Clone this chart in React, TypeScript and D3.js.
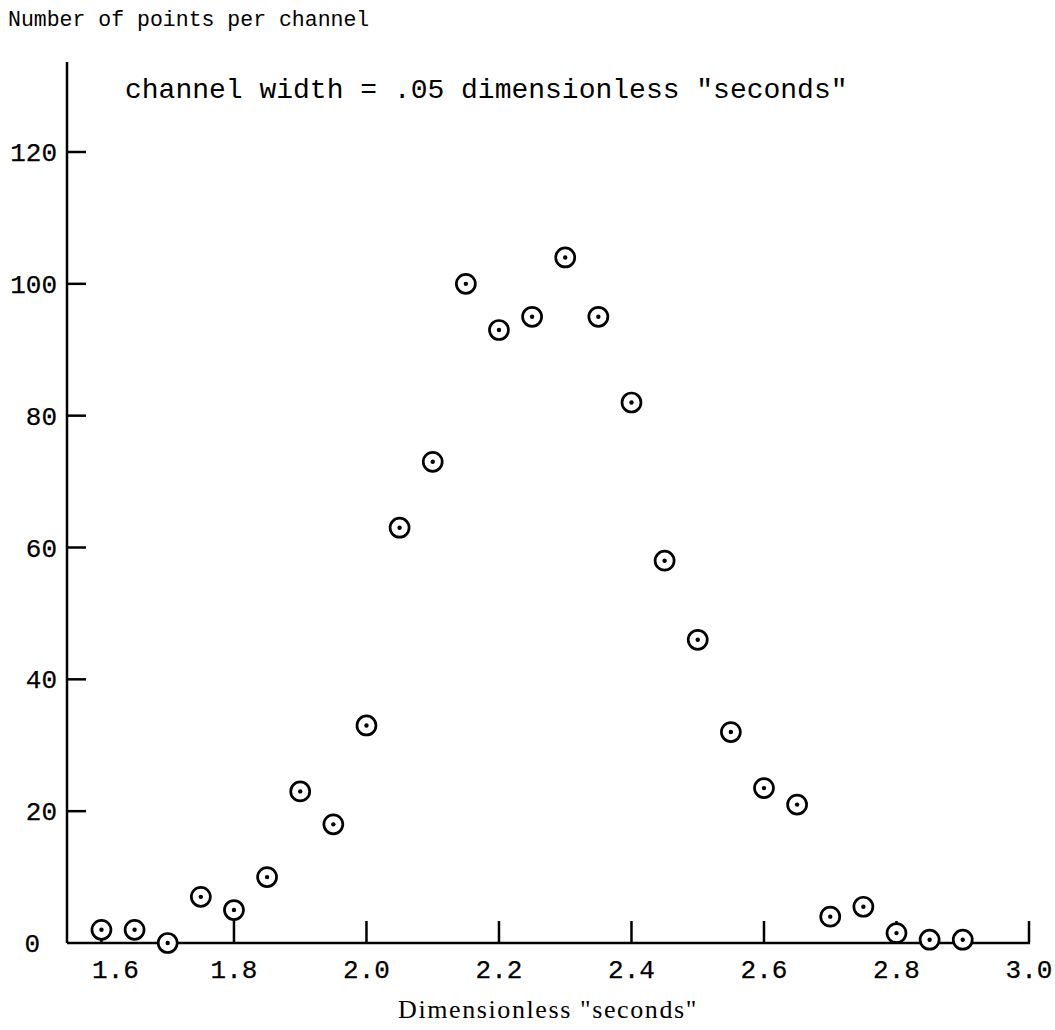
import React, { useRef, useEffect } from "react";
import * as d3 from "d3";

// channel centres (dimensionless "seconds") and counts
const channels = [
  1.6, 1.65, 1.7, 1.75, 1.8, 1.85, 1.9, 1.95, 2.0, 2.05, 2.1, 2.15, 2.2, 2.25,
  2.3, 2.35, 2.4, 2.45, 2.5, 2.55, 2.6, 2.65, 2.7, 2.75, 2.8, 2.85, 2.9,
];
const counts = [
  2, 2, 0, 7, 5, 10, 23, 18, 33, 63, 73, 100, 93, 95, 104, 95, 82, 58, 46, 32,
  23.5, 21, 4, 5.5, 1.5, 0.5, 0.5,
];
const xTicks = [1.6, 1.8, 2.0, 2.2, 2.4, 2.6, 2.8, 3.0];
const yTicks = [0, 20, 40, 60, 80, 100, 120];

const yTitle = "Number of points per channel";
const note = 'channel width = .05 dimensionless "seconds"';
const xTitle = 'Dimensionless "seconds"';

function ScatterChart() {
  const svgRef = useRef<SVGSVGElement>(null);
  const width = 1055;
  const height = 1030;
  const mono = "'Liberation Mono', 'DejaVu Sans Mono', monospace";
  const serif = "'Liberation Serif', 'DejaVu Serif', serif";

  useEffect(() => {
    const svg = d3.select(svgRef.current);
    svg.selectAll("*").remove();

    const x = d3.scaleLinear().domain([1.548, 3.0]).range([67, 1029]);
    const y = d3.scaleLinear().domain([0, 120]).range([943, 152]);
    const data = channels.map((c, i) => ({ x: c, y: counts[i] }));

    // axes drawn by hand, the original is a typed / hand-drawn figure
    svg
      .append("line")
      .attr("x1", x(1.548))
      .attr("x2", x(1.548))
      .attr("y1", y(0))
      .attr("y2", 62)
      .attr("stroke", "#000")
      .attr("stroke-width", 2.5);
    svg
      .append("line")
      .attr("x1", x(1.548))
      .attr("x2", x(3.0) + 1)
      .attr("y1", y(0))
      .attr("y2", y(0))
      .attr("stroke", "#000")
      .attr("stroke-width", 2.5);

    // y ticks
    svg
      .selectAll(".ytick")
      .data(yTicks.filter((d) => d > 0))
      .enter()
      .append("line")
      .attr("x1", x(1.548))
      .attr("x2", x(1.548) + 19)
      .attr("y1", (d) => y(d))
      .attr("y2", (d) => y(d))
      .attr("stroke", "#000")
      .attr("stroke-width", 2.5);
    svg
      .selectAll(".ylab")
      .data(yTicks)
      .enter()
      .append("text")
      .attr("x", (d) => (d === 0 ? 40 : 57))
      .attr("y", (d) => y(d))
      .attr("dy", "0.35em")
      .attr("text-anchor", "end")
      .attr("font-family", mono)
      .attr("font-size", 26)
      .attr("stroke", "#000")
      .attr("stroke-width", 0.25)
      .text((d) => d);

    // x ticks
    svg
      .selectAll(".xtick")
      .data(xTicks)
      .enter()
      .append("line")
      .attr("x1", (d) => x(d))
      .attr("x2", (d) => x(d))
      .attr("y1", y(0))
      .attr("y2", y(0) - 22)
      .attr("stroke", "#000")
      .attr("stroke-width", 2.5);
    svg
      .selectAll(".xlab")
      .data(xTicks)
      .enter()
      .append("text")
      .attr("x", (d) => x(d) + (d === 1.6 ? 14 : 0))
      .attr("y", 969)
      .attr("dy", "0.35em")
      .attr("text-anchor", "middle")
      .attr("font-family", mono)
      .attr("font-size", 26)
      .attr("stroke", "#000")
      .attr("stroke-width", 0.25)
      .text((d) => d3.format(".1f")(d));

    // points: circle with a dot in the middle
    const pts = svg
      .selectAll(".point")
      .data(data)
      .enter()
      .append("g")
      .attr("transform", (d) => `translate(${x(d.x)},${y(d.y)})`);
    pts
      .append("circle")
      .attr("r", 9.5)
      .attr("fill", "#fff")
      .attr("stroke", "#000")
      .attr("stroke-width", 2.7);
    pts.append("circle").attr("r", 2.2).attr("fill", "#000");

    // texts
    svg
      .append("text")
      .attr("x", 8)
      .attr("y", 18)
      .attr("dy", "0.35em")
      .attr("font-family", mono)
      .attr("font-size", 21.5)
      .text(yTitle);
    svg
      .append("text")
      .attr("x", 125)
      .attr("y", 88)
      .attr("dy", "0.35em")
      .attr("font-family", mono)
      .attr("font-size", 28)
      .text(note);
    svg
      .append("text")
      .attr("x", 548)
      .attr("y", 1009)
      .attr("dy", "0.35em")
      .attr("text-anchor", "middle")
      .attr("font-family", serif)
      .attr("font-size", 26)
      .attr("letter-spacing", 1.6)
      .text(xTitle);
  }, []);

  return (
    <svg
      ref={svgRef}
      width={width}
      height={height}
      style={{ position: "absolute", left: 0, top: 0, background: "#fff" }}
    />
  );
}

export default function App() {
  return <ScatterChart />;
}
